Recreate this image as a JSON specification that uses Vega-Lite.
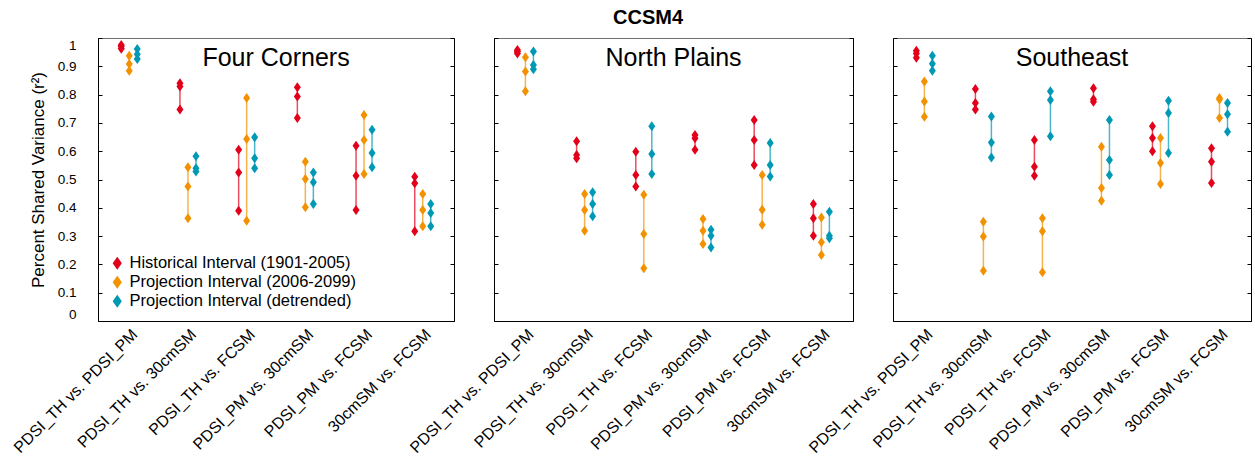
{
"$schema": "https://vega.github.io/schema/vega-lite/v6.json",
"datasets": {"d": [
{"r":"FC","p":"PDSI_TH vs. PDSI_PM","s":"H","v":0.975},{"r":"FC","p":"PDSI_TH vs. PDSI_PM","s":"H","v":0.970},{"r":"FC","p":"PDSI_TH vs. PDSI_PM","s":"H","v":0.962},
{"r":"FC","p":"PDSI_TH vs. PDSI_PM","s":"P","v":0.937},{"r":"FC","p":"PDSI_TH vs. PDSI_PM","s":"P","v":0.908},{"r":"FC","p":"PDSI_TH vs. PDSI_PM","s":"P","v":0.884},
{"r":"FC","p":"PDSI_TH vs. PDSI_PM","s":"D","v":0.961},{"r":"FC","p":"PDSI_TH vs. PDSI_PM","s":"D","v":0.943},{"r":"FC","p":"PDSI_TH vs. PDSI_PM","s":"D","v":0.926},
{"r":"FC","p":"PDSI_TH vs. 30cmSM","s":"H","v":0.840},{"r":"FC","p":"PDSI_TH vs. 30cmSM","s":"H","v":0.829},{"r":"FC","p":"PDSI_TH vs. 30cmSM","s":"H","v":0.747},
{"r":"FC","p":"PDSI_TH vs. 30cmSM","s":"P","v":0.543},{"r":"FC","p":"PDSI_TH vs. 30cmSM","s":"P","v":0.475},{"r":"FC","p":"PDSI_TH vs. 30cmSM","s":"P","v":0.363},
{"r":"FC","p":"PDSI_TH vs. 30cmSM","s":"D","v":0.582},{"r":"FC","p":"PDSI_TH vs. 30cmSM","s":"D","v":0.540},{"r":"FC","p":"PDSI_TH vs. 30cmSM","s":"D","v":0.528},
{"r":"FC","p":"PDSI_TH vs. FCSM","s":"H","v":0.605},{"r":"FC","p":"PDSI_TH vs. FCSM","s":"H","v":0.525},{"r":"FC","p":"PDSI_TH vs. FCSM","s":"H","v":0.390},
{"r":"FC","p":"PDSI_TH vs. FCSM","s":"P","v":0.788},{"r":"FC","p":"PDSI_TH vs. FCSM","s":"P","v":0.643},{"r":"FC","p":"PDSI_TH vs. FCSM","s":"P","v":0.354},
{"r":"FC","p":"PDSI_TH vs. FCSM","s":"D","v":0.649},{"r":"FC","p":"PDSI_TH vs. FCSM","s":"D","v":0.575},{"r":"FC","p":"PDSI_TH vs. FCSM","s":"D","v":0.540},
{"r":"FC","p":"PDSI_PM vs. 30cmSM","s":"H","v":0.826},{"r":"FC","p":"PDSI_PM vs. 30cmSM","s":"H","v":0.793},{"r":"FC","p":"PDSI_PM vs. 30cmSM","s":"H","v":0.717},
{"r":"FC","p":"PDSI_PM vs. 30cmSM","s":"P","v":0.563},{"r":"FC","p":"PDSI_PM vs. 30cmSM","s":"P","v":0.502},{"r":"FC","p":"PDSI_PM vs. 30cmSM","s":"P","v":0.402},
{"r":"FC","p":"PDSI_PM vs. 30cmSM","s":"D","v":0.525},{"r":"FC","p":"PDSI_PM vs. 30cmSM","s":"D","v":0.490},{"r":"FC","p":"PDSI_PM vs. 30cmSM","s":"D","v":0.413},
{"r":"FC","p":"PDSI_PM vs. FCSM","s":"H","v":0.619},{"r":"FC","p":"PDSI_PM vs. FCSM","s":"H","v":0.513},{"r":"FC","p":"PDSI_PM vs. FCSM","s":"H","v":0.392},
{"r":"FC","p":"PDSI_PM vs. FCSM","s":"P","v":0.728},{"r":"FC","p":"PDSI_PM vs. FCSM","s":"P","v":0.640},{"r":"FC","p":"PDSI_PM vs. FCSM","s":"P","v":0.519},
{"r":"FC","p":"PDSI_PM vs. FCSM","s":"D","v":0.676},{"r":"FC","p":"PDSI_PM vs. FCSM","s":"D","v":0.594},{"r":"FC","p":"PDSI_PM vs. FCSM","s":"D","v":0.543},
{"r":"FC","p":"30cmSM vs. FCSM","s":"H","v":0.510},{"r":"FC","p":"30cmSM vs. FCSM","s":"H","v":0.487},{"r":"FC","p":"30cmSM vs. FCSM","s":"H","v":0.317},
{"r":"FC","p":"30cmSM vs. FCSM","s":"P","v":0.449},{"r":"FC","p":"30cmSM vs. FCSM","s":"P","v":0.392},{"r":"FC","p":"30cmSM vs. FCSM","s":"P","v":0.335},
{"r":"FC","p":"30cmSM vs. FCSM","s":"D","v":0.413},{"r":"FC","p":"30cmSM vs. FCSM","s":"D","v":0.382},{"r":"FC","p":"30cmSM vs. FCSM","s":"D","v":0.335},

{"r":"NP","p":"PDSI_TH vs. PDSI_PM","s":"H","v":0.958},{"r":"NP","p":"PDSI_TH vs. PDSI_PM","s":"H","v":0.952},{"r":"NP","p":"PDSI_TH vs. PDSI_PM","s":"H","v":0.945},
{"r":"NP","p":"PDSI_TH vs. PDSI_PM","s":"P","v":0.932},{"r":"NP","p":"PDSI_TH vs. PDSI_PM","s":"P","v":0.882},{"r":"NP","p":"PDSI_TH vs. PDSI_PM","s":"P","v":0.812},
{"r":"NP","p":"PDSI_TH vs. PDSI_PM","s":"D","v":0.952},{"r":"NP","p":"PDSI_TH vs. PDSI_PM","s":"D","v":0.905},{"r":"NP","p":"PDSI_TH vs. PDSI_PM","s":"D","v":0.890},
{"r":"NP","p":"PDSI_TH vs. 30cmSM","s":"H","v":0.635},{"r":"NP","p":"PDSI_TH vs. 30cmSM","s":"H","v":0.587},{"r":"NP","p":"PDSI_TH vs. 30cmSM","s":"H","v":0.575},
{"r":"NP","p":"PDSI_TH vs. 30cmSM","s":"P","v":0.449},{"r":"NP","p":"PDSI_TH vs. 30cmSM","s":"P","v":0.392},{"r":"NP","p":"PDSI_TH vs. 30cmSM","s":"P","v":0.319},
{"r":"NP","p":"PDSI_TH vs. 30cmSM","s":"D","v":0.455},{"r":"NP","p":"PDSI_TH vs. 30cmSM","s":"D","v":0.413},{"r":"NP","p":"PDSI_TH vs. 30cmSM","s":"D","v":0.370},
{"r":"NP","p":"PDSI_TH vs. FCSM","s":"H","v":0.598},{"r":"NP","p":"PDSI_TH vs. FCSM","s":"H","v":0.516},{"r":"NP","p":"PDSI_TH vs. FCSM","s":"H","v":0.475},
{"r":"NP","p":"PDSI_TH vs. FCSM","s":"P","v":0.446},{"r":"NP","p":"PDSI_TH vs. FCSM","s":"P","v":0.307},{"r":"NP","p":"PDSI_TH vs. FCSM","s":"P","v":0.186},
{"r":"NP","p":"PDSI_TH vs. FCSM","s":"D","v":0.688},{"r":"NP","p":"PDSI_TH vs. FCSM","s":"D","v":0.590},{"r":"NP","p":"PDSI_TH vs. FCSM","s":"D","v":0.519},
{"r":"NP","p":"PDSI_PM vs. 30cmSM","s":"H","v":0.657},{"r":"NP","p":"PDSI_PM vs. 30cmSM","s":"H","v":0.646},{"r":"NP","p":"PDSI_PM vs. 30cmSM","s":"H","v":0.605},
{"r":"NP","p":"PDSI_PM vs. 30cmSM","s":"P","v":0.360},{"r":"NP","p":"PDSI_PM vs. 30cmSM","s":"P","v":0.319},{"r":"NP","p":"PDSI_PM vs. 30cmSM","s":"P","v":0.272},
{"r":"NP","p":"PDSI_PM vs. 30cmSM","s":"D","v":0.322},{"r":"NP","p":"PDSI_PM vs. 30cmSM","s":"D","v":0.301},{"r":"NP","p":"PDSI_PM vs. 30cmSM","s":"D","v":0.260},
{"r":"NP","p":"PDSI_PM vs. FCSM","s":"H","v":0.710},{"r":"NP","p":"PDSI_PM vs. FCSM","s":"H","v":0.640},{"r":"NP","p":"PDSI_PM vs. FCSM","s":"H","v":0.551},
{"r":"NP","p":"PDSI_PM vs. FCSM","s":"P","v":0.516},{"r":"NP","p":"PDSI_PM vs. FCSM","s":"P","v":0.393},{"r":"NP","p":"PDSI_PM vs. FCSM","s":"P","v":0.340},
{"r":"NP","p":"PDSI_PM vs. FCSM","s":"D","v":0.629},{"r":"NP","p":"PDSI_PM vs. FCSM","s":"D","v":0.551},{"r":"NP","p":"PDSI_PM vs. FCSM","s":"D","v":0.511},
{"r":"NP","p":"30cmSM vs. FCSM","s":"H","v":0.413},{"r":"NP","p":"30cmSM vs. FCSM","s":"H","v":0.363},{"r":"NP","p":"30cmSM vs. FCSM","s":"H","v":0.301},
{"r":"NP","p":"30cmSM vs. FCSM","s":"P","v":0.366},{"r":"NP","p":"30cmSM vs. FCSM","s":"P","v":0.278},{"r":"NP","p":"30cmSM vs. FCSM","s":"P","v":0.233},
{"r":"NP","p":"30cmSM vs. FCSM","s":"D","v":0.386},{"r":"NP","p":"30cmSM vs. FCSM","s":"D","v":0.301},{"r":"NP","p":"30cmSM vs. FCSM","s":"D","v":0.292},

{"r":"SE","p":"PDSI_TH vs. PDSI_PM","s":"H","v":0.955},{"r":"SE","p":"PDSI_TH vs. PDSI_PM","s":"H","v":0.945},{"r":"SE","p":"PDSI_TH vs. PDSI_PM","s":"H","v":0.930},
{"r":"SE","p":"PDSI_TH vs. PDSI_PM","s":"P","v":0.846},{"r":"SE","p":"PDSI_TH vs. PDSI_PM","s":"P","v":0.776},{"r":"SE","p":"PDSI_TH vs. PDSI_PM","s":"P","v":0.722},
{"r":"SE","p":"PDSI_TH vs. PDSI_PM","s":"D","v":0.937},{"r":"SE","p":"PDSI_TH vs. PDSI_PM","s":"D","v":0.909},{"r":"SE","p":"PDSI_TH vs. PDSI_PM","s":"D","v":0.884},
{"r":"SE","p":"PDSI_TH vs. 30cmSM","s":"H","v":0.820},{"r":"SE","p":"PDSI_TH vs. 30cmSM","s":"H","v":0.770},{"r":"SE","p":"PDSI_TH vs. 30cmSM","s":"H","v":0.747},
{"r":"SE","p":"PDSI_TH vs. 30cmSM","s":"P","v":0.351},{"r":"SE","p":"PDSI_TH vs. 30cmSM","s":"P","v":0.299},{"r":"SE","p":"PDSI_TH vs. 30cmSM","s":"P","v":0.178},
{"r":"SE","p":"PDSI_TH vs. 30cmSM","s":"D","v":0.723},{"r":"SE","p":"PDSI_TH vs. 30cmSM","s":"D","v":0.631},{"r":"SE","p":"PDSI_TH vs. 30cmSM","s":"D","v":0.578},
{"r":"SE","p":"PDSI_TH vs. FCSM","s":"H","v":0.640},{"r":"SE","p":"PDSI_TH vs. FCSM","s":"H","v":0.545},{"r":"SE","p":"PDSI_TH vs. FCSM","s":"H","v":0.513},
{"r":"SE","p":"PDSI_TH vs. FCSM","s":"P","v":0.363},{"r":"SE","p":"PDSI_TH vs. FCSM","s":"P","v":0.317},{"r":"SE","p":"PDSI_TH vs. FCSM","s":"P","v":0.172},
{"r":"SE","p":"PDSI_TH vs. FCSM","s":"D","v":0.812},{"r":"SE","p":"PDSI_TH vs. FCSM","s":"D","v":0.781},{"r":"SE","p":"PDSI_TH vs. FCSM","s":"D","v":0.653},
{"r":"SE","p":"PDSI_PM vs. 30cmSM","s":"H","v":0.822},{"r":"SE","p":"PDSI_PM vs. 30cmSM","s":"H","v":0.784},{"r":"SE","p":"PDSI_PM vs. 30cmSM","s":"H","v":0.775},
{"r":"SE","p":"PDSI_PM vs. 30cmSM","s":"P","v":0.616},{"r":"SE","p":"PDSI_PM vs. 30cmSM","s":"P","v":0.470},{"r":"SE","p":"PDSI_PM vs. 30cmSM","s":"P","v":0.425},
{"r":"SE","p":"PDSI_PM vs. 30cmSM","s":"D","v":0.710},{"r":"SE","p":"PDSI_PM vs. 30cmSM","s":"D","v":0.569},{"r":"SE","p":"PDSI_PM vs. 30cmSM","s":"D","v":0.516},
{"r":"SE","p":"PDSI_PM vs. FCSM","s":"H","v":0.688},{"r":"SE","p":"PDSI_PM vs. FCSM","s":"H","v":0.647},{"r":"SE","p":"PDSI_PM vs. FCSM","s":"H","v":0.600},
{"r":"SE","p":"PDSI_PM vs. FCSM","s":"P","v":0.647},{"r":"SE","p":"PDSI_PM vs. FCSM","s":"P","v":0.558},{"r":"SE","p":"PDSI_PM vs. FCSM","s":"P","v":0.484},
{"r":"SE","p":"PDSI_PM vs. FCSM","s":"D","v":0.778},{"r":"SE","p":"PDSI_PM vs. FCSM","s":"D","v":0.735},{"r":"SE","p":"PDSI_PM vs. FCSM","s":"D","v":0.594},
{"r":"SE","p":"30cmSM vs. FCSM","s":"H","v":0.610},{"r":"SE","p":"30cmSM vs. FCSM","s":"H","v":0.563},{"r":"SE","p":"30cmSM vs. FCSM","s":"H","v":0.488},
{"r":"SE","p":"30cmSM vs. FCSM","s":"P","v":0.788},{"r":"SE","p":"30cmSM vs. FCSM","s":"P","v":0.783},{"r":"SE","p":"30cmSM vs. FCSM","s":"P","v":0.717},
{"r":"SE","p":"30cmSM vs. FCSM","s":"D","v":0.770},{"r":"SE","p":"30cmSM vs. FCSM","s":"D","v":0.731},{"r":"SE","p":"30cmSM vs. FCSM","s":"D","v":0.669}
]},
"title": {"text": "CCSM4", "fontSize": 20, "fontWeight": "bold", "anchor": "middle", "frame": "bounds", "offset": 9, "dx": 17},
"bounds": "flush",
"padding": {"left": 10, "right": 2, "top": 8, "bottom": 5},
"config": {
  "font": "Liberation Sans",
  "view": {"stroke": "#6e6e6e", "strokeWidth": 1},
  "axis": {"domainColor": "#000000", "tickColor": "#000000", "labelColor": "#000000", "titleColor": "#000000", "grid": false, "labelFont": "Liberation Sans", "titleFont": "Liberation Sans", "titleFontWeight": "normal"},
  "legend": {"labelFont": "Liberation Sans"}
},
"spacing": 40,
"resolve": {"legend": {"color": "independent"}},
"hconcat": [
{
  "width": 356, "height": 283,
  "data": {"name": "d"},
  "transform": [{"filter": "datum.r == 'FC'"}],
  "title": {"text": "Four Corners", "fontSize": 25, "fontWeight": "normal", "offset": -33, "anchor": "middle"},
  "encoding": {
    "x": {"field": "p", "type": "nominal", "sort": ["PDSI_TH vs. PDSI_PM","PDSI_TH vs. 30cmSM","PDSI_TH vs. FCSM","PDSI_PM vs. 30cmSM","PDSI_PM vs. FCSM","30cmSM vs. FCSM"],
          "scale": {"paddingInner": 0.591, "paddingOuter": 0.328},
          "axis": {"title": null, "labelAngle": -45, "ticks": false, "labelFontSize": 16, "labelPadding": 5}},
    "xOffset": {"field": "s", "type": "nominal", "sort": ["H","P","D"], "scale": {"paddingInner": 0, "paddingOuter": 0}},
    "color": {"field": "s", "type": "nominal", "scale": {"domain": ["H","P","D"], "range": ["#e2001a","#f39200","#0099b5"]},
              "legend": {"title": null, "orient": "bottom-left", "offset": 9, "symbolType": "M0,-1L0.7,0L0,1L-0.7,0Z", "symbolSize": 110, "symbolOpacity": 1, "labelFontSize": 16.5, "labelLimit": 400, "rowPadding": 2, "padding": 2,
                         "labelExpr": "datum.label == 'H' ? 'Historical Interval (1901-2005)' : datum.label == 'P' ? 'Projection Interval (2006-2099)' : 'Projection Interval (detrended)'"}}
  },
  "layer": [
    {"mark": {"type": "rule", "strokeWidth": 1.5, "opacity": 0.7},
     "encoding": {"y": {"aggregate": "min", "field": "v", "type": "quantitative", "scale": {"domain": [0, 1], "nice": false},
                        "axis": {"title": "Percent Shared Variance (r²)", "titleFontSize": 17, "labelFontSize": 13.5, "format": "~g", "labelOverlap": false, "labelFlush": true, "values": [0,0.1,0.2,0.3,0.4,0.5,0.6,0.7,0.8,0.9,1], "tickSize": -4, "labelPadding": 26, "titlePadding": 10}},
                  "y2": {"aggregate": "max", "field": "v"}}},
    {"mark": {"type": "point", "filled": true, "opacity": 1, "shape": "M0,-1L0.7,0L0,1L-0.7,0Z", "size": 100},
     "encoding": {"y": {"field": "v", "type": "quantitative", "scale": {"domain": [0, 1], "nice": false},
                        "axis": {"orient": "right", "title": null, "labels": false, "values": [0,0.1,0.2,0.3,0.4,0.5,0.6,0.7,0.8,0.9,1], "tickSize": -4}}}}
  ],
  "resolve": {"scale": {"y": "independent"}}
},
{
  "width": 359, "height": 283,
  "data": {"name": "d"},
  "transform": [{"filter": "datum.r == 'NP'"}],
  "title": {"text": "North Plains", "fontSize": 25, "fontWeight": "normal", "offset": -33, "anchor": "middle"},
  "encoding": {
    "x": {"field": "p", "type": "nominal", "sort": ["PDSI_TH vs. PDSI_PM","PDSI_TH vs. 30cmSM","PDSI_TH vs. FCSM","PDSI_PM vs. 30cmSM","PDSI_PM vs. FCSM","30cmSM vs. FCSM"],
          "scale": {"paddingInner": 0.591, "paddingOuter": 0.328},
          "axis": {"title": null, "labelAngle": -45, "ticks": false, "labelFontSize": 16, "labelPadding": 5}},
    "xOffset": {"field": "s", "type": "nominal", "sort": ["H","P","D"], "scale": {"paddingInner": 0, "paddingOuter": 0}},
    "color": {"field": "s", "type": "nominal", "scale": {"domain": ["H","P","D"], "range": ["#e2001a","#f39200","#0099b5"]}, "legend": null}
  },
  "layer": [
    {"mark": {"type": "rule", "strokeWidth": 1.5, "opacity": 0.7},
     "encoding": {"y": {"aggregate": "min", "field": "v", "type": "quantitative", "scale": {"domain": [0, 1], "nice": false},
                        "axis": {"title": null, "labels": false, "values": [0,0.1,0.2,0.3,0.4,0.5,0.6,0.7,0.8,0.9,1], "tickSize": -4}},
                  "y2": {"aggregate": "max", "field": "v"}}},
    {"mark": {"type": "point", "filled": true, "opacity": 1, "shape": "M0,-1L0.7,0L0,1L-0.7,0Z", "size": 100},
     "encoding": {"y": {"field": "v", "type": "quantitative", "scale": {"domain": [0, 1], "nice": false},
                        "axis": {"orient": "right", "title": null, "labels": false, "values": [0,0.1,0.2,0.3,0.4,0.5,0.6,0.7,0.8,0.9,1], "tickSize": -4}}}}
  ],
  "resolve": {"scale": {"y": "independent"}}
},
{
  "width": 358, "height": 283,
  "data": {"name": "d"},
  "transform": [{"filter": "datum.r == 'SE'"}],
  "title": {"text": "Southeast", "fontSize": 25, "fontWeight": "normal", "offset": -33, "anchor": "middle"},
  "encoding": {
    "x": {"field": "p", "type": "nominal", "sort": ["PDSI_TH vs. PDSI_PM","PDSI_TH vs. 30cmSM","PDSI_TH vs. FCSM","PDSI_PM vs. 30cmSM","PDSI_PM vs. FCSM","30cmSM vs. FCSM"],
          "scale": {"paddingInner": 0.591, "paddingOuter": 0.328},
          "axis": {"title": null, "labelAngle": -45, "ticks": false, "labelFontSize": 16, "labelPadding": 5}},
    "xOffset": {"field": "s", "type": "nominal", "sort": ["H","P","D"], "scale": {"paddingInner": 0, "paddingOuter": 0}},
    "color": {"field": "s", "type": "nominal", "scale": {"domain": ["H","P","D"], "range": ["#e2001a","#f39200","#0099b5"]}, "legend": null}
  },
  "layer": [
    {"mark": {"type": "rule", "strokeWidth": 1.5, "opacity": 0.7},
     "encoding": {"y": {"aggregate": "min", "field": "v", "type": "quantitative", "scale": {"domain": [0, 1], "nice": false},
                        "axis": {"title": null, "labels": false, "values": [0,0.1,0.2,0.3,0.4,0.5,0.6,0.7,0.8,0.9,1], "tickSize": -4}},
                  "y2": {"aggregate": "max", "field": "v"}}},
    {"mark": {"type": "point", "filled": true, "opacity": 1, "shape": "M0,-1L0.7,0L0,1L-0.7,0Z", "size": 100},
     "encoding": {"y": {"field": "v", "type": "quantitative", "scale": {"domain": [0, 1], "nice": false},
                        "axis": {"orient": "right", "title": null, "labels": false, "values": [0,0.1,0.2,0.3,0.4,0.5,0.6,0.7,0.8,0.9,1], "tickSize": -4}}}}
  ],
  "resolve": {"scale": {"y": "independent"}}
}
]
}
